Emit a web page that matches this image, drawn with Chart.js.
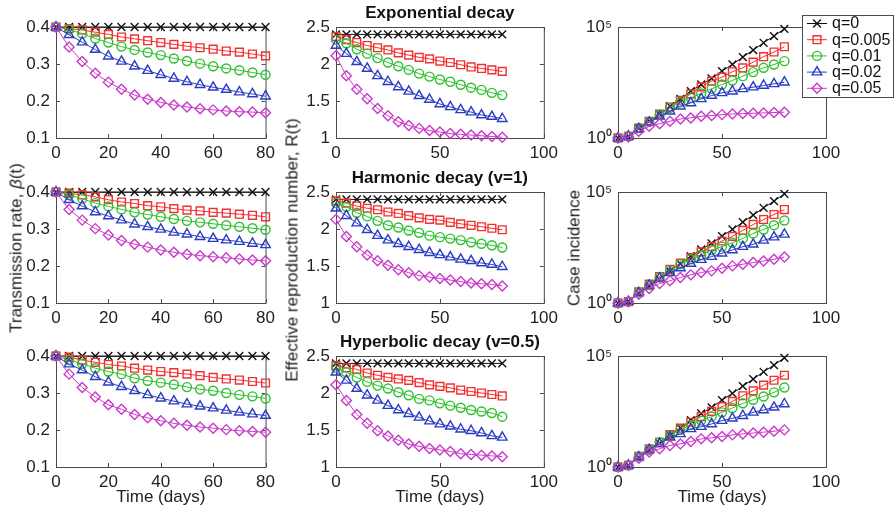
<!DOCTYPE html>
<html>
<head>
<meta charset="utf-8">
<script src="https://cdn.jsdelivr.net/npm/chart.js@4.4.1/dist/chart.umd.min.js"></script>
<style>
  body { margin: 0; background: #fff; }
  #fig { position: relative; width: 894px; height: 510px; overflow: hidden;
         font-family: 'Liberation Sans', Arial, Helvetica, sans-serif; color: #222; }
  #fig canvas { position: absolute; }
  .ylab { position: absolute; z-index: 2; white-space: nowrap; font-size: 17px; line-height: 1;
          transform: translate(-50%, -50%) rotate(-90deg); }
</style>
</head>
<body>
<div id="fig">
  <div class="ylab" style="left:16px;top:248px">Transmission rate, <i>β</i>(t)</div>
  <div class="ylab" style="left:292px;top:250px">Effective reproduction number, R(t)</div>
  <div class="ylab" style="left:574px;top:248px">Case incidence</div>
</div>
<script>
// sampling days, one marker every 5 days
const days = [0, 5, 10, 15, 20, 25, 30, 35, 40, 45, 50, 55, 60, 65, 70, 75, 80];
const qLabels = ['q=0', 'q=0.005', 'q=0.01', 'q=0.02', 'q=0.05'];
const panelTitles = ['Exponential decay', 'Harmonic decay (v=1)', 'Hyperbolic decay (v=0.5)'];

const dayTicks80 = [0, 20, 40, 60, 80];
const dayTicks100 = [0, 50, 100];
const betaTicks = [0.1, 0.2, 0.3, 0.4];
const rTicks = [1, 1.5, 2, 2.5];
const incidenceTicks = [1, 100000];

// transmission rate beta(t), rows are q = 0, 0.005, 0.01, 0.02, 0.05
const betaExponential = [
  [0.4, 0.4, 0.4, 0.4, 0.4, 0.4, 0.4, 0.4, 0.4, 0.4, 0.4, 0.4, 0.4, 0.4, 0.4, 0.4, 0.4],
  [0.400, 0.396, 0.392, 0.386, 0.380, 0.373, 0.368, 0.363, 0.358, 0.353, 0.348, 0.344, 0.340, 0.335, 0.332, 0.327, 0.322],
  [0.400, 0.393, 0.382, 0.369, 0.358, 0.347, 0.338, 0.331, 0.324, 0.315, 0.308, 0.301, 0.294, 0.288, 0.283, 0.277, 0.271],
  [0.400, 0.379, 0.359, 0.339, 0.321, 0.307, 0.294, 0.282, 0.271, 0.261, 0.252, 0.244, 0.237, 0.231, 0.224, 0.219, 0.213],
  [0.400, 0.346, 0.307, 0.275, 0.251, 0.232, 0.216, 0.205, 0.196, 0.189, 0.184, 0.179, 0.176, 0.173, 0.171, 0.170, 0.168],
];
const betaHarmonic = [
  [0.4, 0.4, 0.4, 0.4, 0.4, 0.4, 0.4, 0.4, 0.4, 0.4, 0.4, 0.4, 0.4, 0.4, 0.4, 0.4, 0.4],
  [0.400, 0.397, 0.392, 0.387, 0.379, 0.373, 0.369, 0.363, 0.360, 0.355, 0.351, 0.349, 0.345, 0.343, 0.340, 0.337, 0.333],
  [0.400, 0.392, 0.382, 0.370, 0.361, 0.353, 0.345, 0.339, 0.333, 0.327, 0.322, 0.318, 0.314, 0.310, 0.306, 0.302, 0.298],
  [0.400, 0.379, 0.362, 0.346, 0.335, 0.324, 0.313, 0.306, 0.299, 0.291, 0.286, 0.279, 0.274, 0.270, 0.266, 0.261, 0.257],
  [0.400, 0.353, 0.324, 0.301, 0.284, 0.269, 0.259, 0.251, 0.243, 0.237, 0.232, 0.228, 0.225, 0.222, 0.219, 0.216, 0.214],
];
const betaHyperbolic = [
  [0.4, 0.4, 0.4, 0.4, 0.4, 0.4, 0.4, 0.4, 0.4, 0.4, 0.4, 0.4, 0.4, 0.4, 0.4, 0.4, 0.4],
  [0.400, 0.397, 0.389, 0.383, 0.377, 0.373, 0.367, 0.362, 0.358, 0.355, 0.351, 0.347, 0.342, 0.338, 0.335, 0.331, 0.327],
  [0.400, 0.389, 0.379, 0.367, 0.358, 0.351, 0.340, 0.333, 0.328, 0.323, 0.316, 0.310, 0.306, 0.300, 0.295, 0.291, 0.285],
  [0.400, 0.378, 0.362, 0.344, 0.329, 0.317, 0.306, 0.295, 0.286, 0.278, 0.270, 0.264, 0.259, 0.253, 0.248, 0.243, 0.239],
  [0.400, 0.351, 0.315, 0.289, 0.268, 0.256, 0.242, 0.233, 0.225, 0.218, 0.213, 0.208, 0.205, 0.201, 0.198, 0.196, 0.194],
];

// effective reproduction number R(t)
const rExponential = [
  [2.4, 2.4, 2.4, 2.4, 2.4, 2.4, 2.4, 2.4, 2.4, 2.4, 2.4, 2.4, 2.4, 2.4, 2.4, 2.4, 2.4],
  [2.37, 2.33, 2.29, 2.25, 2.22, 2.19, 2.15, 2.12, 2.09, 2.07, 2.04, 2.02, 1.99, 1.96, 1.94, 1.92, 1.90],
  [2.33, 2.28, 2.20, 2.14, 2.08, 2.02, 1.97, 1.92, 1.87, 1.83, 1.79, 1.76, 1.72, 1.68, 1.65, 1.61, 1.58],
  [2.25, 2.14, 2.03, 1.94, 1.84, 1.76, 1.69, 1.63, 1.57, 1.52, 1.46, 1.42, 1.38, 1.35, 1.31, 1.29, 1.26],
  [2.11, 1.84, 1.66, 1.53, 1.40, 1.30, 1.22, 1.17, 1.13, 1.10, 1.08, 1.06, 1.05, 1.04, 1.03, 1.02, 1.01],
];
const rHarmonic = [
  [2.4, 2.4, 2.4, 2.4, 2.4, 2.4, 2.4, 2.4, 2.4, 2.4, 2.4, 2.4, 2.4, 2.4, 2.4, 2.4, 2.4],
  [2.38, 2.35, 2.31, 2.28, 2.26, 2.23, 2.21, 2.18, 2.15, 2.13, 2.12, 2.09, 2.07, 2.05, 2.03, 2.01, 1.99],
  [2.35, 2.30, 2.22, 2.17, 2.11, 2.05, 2.02, 1.98, 1.95, 1.91, 1.89, 1.87, 1.85, 1.82, 1.80, 1.78, 1.75],
  [2.28, 2.18, 2.08, 1.99, 1.91, 1.85, 1.80, 1.76, 1.72, 1.68, 1.65, 1.62, 1.59, 1.57, 1.54, 1.52, 1.49],
  [2.13, 1.90, 1.76, 1.65, 1.57, 1.51, 1.45, 1.41, 1.37, 1.35, 1.33, 1.31, 1.29, 1.27, 1.26, 1.25, 1.23],
];
const rHyperbolic = [
  [2.4, 2.4, 2.4, 2.4, 2.4, 2.4, 2.4, 2.4, 2.4, 2.4, 2.4, 2.4, 2.4, 2.4, 2.4, 2.4, 2.4],
  [2.37, 2.34, 2.32, 2.27, 2.24, 2.21, 2.19, 2.17, 2.14, 2.11, 2.09, 2.07, 2.04, 2.02, 2.00, 1.98, 1.96],
  [2.34, 2.28, 2.21, 2.15, 2.10, 2.06, 2.01, 1.97, 1.92, 1.90, 1.86, 1.83, 1.80, 1.77, 1.75, 1.73, 1.68],
  [2.28, 2.17, 2.06, 1.97, 1.90, 1.83, 1.77, 1.72, 1.67, 1.62, 1.58, 1.55, 1.51, 1.49, 1.46, 1.42, 1.40],
  [2.11, 1.90, 1.71, 1.59, 1.49, 1.42, 1.36, 1.31, 1.28, 1.25, 1.23, 1.21, 1.18, 1.17, 1.16, 1.15, 1.14],
];

// case incidence (log scale)
const incidenceExponential = [
  [1, 1.2, 2.8, 5.7, 12, 27, 58, 128, 257, 480, 1030, 2050, 4400, 9100, 19500, 39000, 83000],
  [1, 1.2, 2.8, 5.6, 12, 25, 50, 97, 200, 365, 550, 960, 1450, 2630, 4600, 7500, 12900],
  [1, 1.2, 2.8, 5.3, 11.3, 22.7, 41, 64, 101, 164, 257, 390, 610, 930, 1450, 2050, 2900],
  [1, 1.2, 2.55, 5.1, 9.5, 16, 27, 38, 58, 82, 108, 128, 164, 195, 232, 275, 326],
  [1, 1.1, 2, 3.4, 4.4, 5.7, 7.2, 8, 9.5, 10.2, 11.3, 12.1, 12.6, 13, 13.5, 14, 14.5],
];
const incidenceHarmonic = [
  [1, 1.2, 2.8, 5.7, 12, 27, 58, 128, 257, 480, 1030, 2050, 4400, 9100, 19500, 39000, 83000],
  [1, 1.15, 3.2, 7.1, 15.6, 33, 62, 110, 200, 345, 620, 1000, 1860, 3450, 5760, 9700, 16200],
  [1, 1.15, 3, 6.4, 14, 28, 56, 93, 146, 245, 345, 520, 810, 1360, 2050, 3200, 5200],
  [1, 1.15, 2.9, 6.2, 13, 23, 38, 60, 90, 123, 174, 245, 345, 440, 660, 930, 1230],
  [1, 1.15, 2.5, 4.5, 7.6, 10, 14, 18.5, 23.6, 28, 37, 47, 56, 66, 78, 93, 118],
];
const incidenceHyperbolic = [
  [1, 1.2, 2.8, 5.7, 12, 27, 58, 128, 257, 480, 1030, 2050, 4400, 9100, 19500, 39000, 83000],
  [1, 1.2, 3, 6.6, 13, 29, 56, 104, 186, 320, 520, 900, 1620, 2700, 4850, 8100, 13600],
  [1, 1.2, 3, 6, 13, 26, 47, 78, 123, 185, 290, 455, 740, 1070, 1500, 2300, 3800],
  [1, 1.2, 2.8, 6, 11, 22, 31, 52, 66, 87, 123, 156, 205, 290, 370, 490, 690],
  [1, 1.2, 2.5, 4.7, 6.6, 9.3, 11, 14, 18.5, 20.6, 23.6, 28, 31, 34, 37, 41, 47],
];

const seriesColors = ['#111111', '#f23030', '#2fc02f', '#2a3cc4', '#c93ac9'];
const seriesMarkers = ['crossRot', 'rect', 'circle', 'triangle', 'rectRot'];
const markerSizes = [5.5, 5.5, 4.5, 5.5, 5];

const FONT = "'Liberation Sans', Arial, Helvetica, sans-serif";
Chart.defaults.font.family = FONT;
Chart.defaults.color = '#222';

const SUP = '⁰¹²³⁴⁵⁶⁷⁸⁹';
function plainTick(v) { return String(+v.toFixed(2)); }
function powTick(v) {
  const e = Math.round(Math.log10(v));
  return '10' + String(e).split('').map(d => SUP[d]).join('');
}

// boxed axes with short inward ticks on all four sides
const axesBox = {
  id: 'axesBox',
  beforeDatasetsDraw(chart) {
    const {ctx, chartArea: a, scales: {x, y}} = chart;
    const L = 4;
    ctx.save();
    ctx.strokeStyle = '#4a4a4a';
    ctx.lineWidth = 1;
    ctx.beginPath();
    x.ticks.forEach(t => {
      const px = Math.round(x.getPixelForValue(t.value)) + 0.5;
      ctx.moveTo(px, a.bottom); ctx.lineTo(px, a.bottom - L);
      ctx.moveTo(px, a.top); ctx.lineTo(px, a.top + L);
    });
    y.ticks.forEach(t => {
      const py = Math.round(y.getPixelForValue(t.value)) + 0.5;
      ctx.moveTo(a.left, py); ctx.lineTo(a.left + L, py);
      ctx.moveTo(a.right, py); ctx.lineTo(a.right - L, py);
    });
    ctx.stroke();
    ctx.strokeRect(a.left + 0.5, a.top + 0.5, a.right - a.left, a.bottom - a.top);
    ctx.restore();
  }
};

// legend box hanging over the top right corner of the incidence plot
const legendBox = {
  id: 'legendBox',
  afterDraw(chart) {
    const {ctx, chartArea: a} = chart;
    const x0 = a.right - 24, y0 = a.top - 12;
    const w = chart.width - x0 - 1, h = 82;
    ctx.save();
    ctx.fillStyle = '#fff';
    ctx.fillRect(x0, y0, w, h);
    ctx.strokeStyle = '#4a4a4a';
    ctx.lineWidth = 1;
    ctx.strokeRect(x0 + 0.5, y0 + 0.5, w, h);
    chart.data.datasets.forEach((ds, i) => {
      const cy = y0 + 8.5 + i * 16.2;
      ctx.strokeStyle = ds.borderColor;
      ctx.lineWidth = 1;
      ctx.beginPath();
      ctx.moveTo(x0 + 5, cy); ctx.lineTo(x0 + 25, cy);
      ctx.stroke();
      ctx.fillStyle = 'rgba(0,0,0,0)';
      ctx.lineWidth = ds.pointBorderWidth;
      Chart.helpers.drawPoint(ctx, {
        pointStyle: ds.pointStyle, radius: ds.pointRadius,
        borderWidth: ds.pointBorderWidth, rotation: 0
      }, x0 + 15, cy);
      ctx.fillStyle = '#111';
      ctx.font = '16px ' + FONT;
      ctx.textAlign = 'left';
      ctx.textBaseline = 'middle';
      ctx.fillText(ds.label, x0 + 30, cy + 0.5);
    });
    ctx.restore();
  }
};

function makeDatasets(series) {
  return series.map((vals, i) => ({
    label: qLabels[i],
    data: days.map((d, j) => ({x: d, y: vals[j]})),
    order: series.length - 1 - i,
    borderColor: seriesColors[i],
    backgroundColor: 'rgba(0,0,0,0)',
    borderWidth: 1,
    pointStyle: seriesMarkers[i],
    pointRadius: markerSizes[i],
    pointBorderWidth: 1.4,
    pointBorderColor: seriesColors[i],
    pointBackgroundColor: 'rgba(0,0,0,0)',
    tension: 0,
    clip: false
  }));
}

const AXIS_W = 50, TOP_PAD = 26, PLOT_H = 111;
const columns = [
  {left: 56, width: 210, pad: 14, xMax: 80, xTicks: dayTicks80, yType: 'linear',
   yMin: 0.1, yMax: 0.4, yTicks: betaTicks, fmt: plainTick},
  {left: 336, width: 211, pad: 16, xMax: 100, xTicks: dayTicks100, yType: 'linear',
   yMin: 1, yMax: 2.5, yTicks: rTicks, fmt: plainTick, titled: true},
  {left: 618, width: 208, pad: 68, xMax: 100, xTicks: dayTicks100, yType: 'logarithmic',
   yMin: 1, yMax: 100000, yTicks: incidenceTicks, fmt: powTick, legend: true},
];
const rows = [
  {top: 27, axisH: 30},
  {top: 192, axisH: 30},
  {top: 356, axisH: 41, xTitle: true},
];
const panelData = [
  [betaExponential, rExponential, incidenceExponential],
  [betaHarmonic, rHarmonic, incidenceHarmonic],
  [betaHyperbolic, rHyperbolic, incidenceHyperbolic],
];

const fig = document.getElementById('fig');
const tickFont = {size: 17};

rows.forEach((row, r) => {
  columns.forEach((col, c) => {
    const canvas = document.createElement('canvas');
    canvas.width = AXIS_W + col.width + col.pad;
    canvas.height = TOP_PAD + PLOT_H + row.axisH;
    canvas.style.left = (col.left - AXIS_W) + 'px';
    canvas.style.top = (row.top - TOP_PAD) + 'px';
    fig.appendChild(canvas);

    const plugins = [axesBox];
    if (col.legend && r === 0) plugins.push(legendBox);

    new Chart(canvas, {
      type: 'line',
      data: {datasets: makeDatasets(panelData[r][c])},
      options: {
        responsive: false,
        animation: false,
        devicePixelRatio: 1,
        events: [],
        layout: {padding: {top: col.titled ? 1.8 : TOP_PAD, right: col.pad, bottom: 0, left: 0}},
        plugins: {
          legend: {display: false},
          tooltip: {enabled: false},
          title: {
            display: !!col.titled,
            text: panelTitles[r],
            fullSize: false,
            color: '#111',
            font: {size: 17, weight: 'bold'},
            padding: {top: 0, bottom: 3.8}
          }
        },
        scales: {
          x: {
            type: 'linear',
            min: 0,
            max: col.xMax,
            grid: {display: false, drawTicks: false},
            border: {display: false},
            ticks: {font: tickFont, color: '#222', padding: 5, maxRotation: 0, autoSkip: false},
            title: {
              display: !!row.xTitle,
              text: 'Time (days)',
              color: '#222',
              font: {size: 17},
              padding: {top: 0, bottom: 0}
            },
            afterBuildTicks: s => { s.ticks = col.xTicks.map(v => ({value: v})); },
            afterFit: s => { s.height = row.axisH; }
          },
          y: {
            type: col.yType,
            min: col.yMin,
            max: col.yMax,
            grid: {display: false, drawTicks: false},
            border: {display: false},
            ticks: {font: tickFont, color: '#222', padding: 6, autoSkip: false,
                    callback: v => col.fmt(v)},
            afterBuildTicks: s => { s.ticks = col.yTicks.map(v => ({value: v})); },
            afterFit: s => { s.width = AXIS_W; }
          }
        }
      },
      plugins: plugins
    });
  });
});
</script>
</body>
</html>
